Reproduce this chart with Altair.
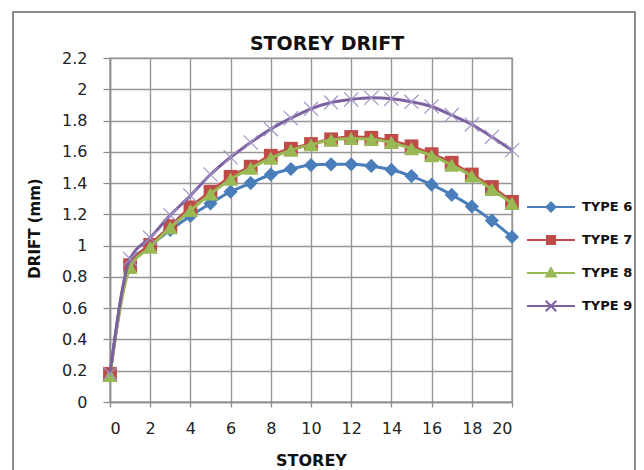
import altair as alt
import pandas as pd

storey = list(range(21))
series_names = ["TYPE 6", "TYPE 7", "TYPE 8", "TYPE 9"]
type6 = [0.18, 0.89, 1.00, 1.10, 1.19, 1.27, 1.345, 1.40, 1.455, 1.49, 1.515,
         1.52, 1.52, 1.51, 1.485, 1.445, 1.39, 1.325, 1.25, 1.16, 1.055]
type7 = [0.18, 0.875, 1.005, 1.125, 1.245, 1.345, 1.44, 1.505, 1.575, 1.62, 1.65,
         1.68, 1.695, 1.69, 1.67, 1.635, 1.585, 1.53, 1.455, 1.375, 1.28]
type8 = [0.17, 0.86, 0.99, 1.115, 1.225, 1.33, 1.425, 1.495, 1.56, 1.61, 1.645,
         1.675, 1.685, 1.68, 1.66, 1.62, 1.575, 1.515, 1.445, 1.36, 1.27]
type9 = [0.18, 0.915, 1.05, 1.195, 1.32, 1.455, 1.565, 1.66, 1.745, 1.815, 1.875,
         1.915, 1.935, 1.945, 1.94, 1.92, 1.89, 1.835, 1.775, 1.695, 1.61]
y_ticks = [0, 0.2, 0.4, 0.6, 0.8, 1.0, 1.2, 1.4, 1.6, 1.8, 2.0, 2.2]
x_ticks = [0, 2, 4, 6, 8, 10, 12, 14, 16, 18, 20]

colors = ["#4A7EBB", "#BE4B48", "#98B954", "#7D60A0"]
marker_colors = ["#4A7EBB", "#BE4B48", "#98B954", "#A394C6"]
shapes = ["diamond", "square", "triangle-up", "M-1,-1L1,1M-1,1L1,-1"]
sizes = [200, 190, 230, 200]
legend_paths = [
    "M-1,0H1M0,-0.19L0.19,0L0,0.19L-0.19,0ZM0,-0.09L0.09,0L0,0.09L-0.09,0Z",
    "M-1,0H1M-0.17,-0.17H0.17V0.17H-0.17ZM-0.08,-0.08H0.08V0.08H-0.08Z",
    "M-1,0H1M0,-0.2L0.2,0.15L-0.2,0.15ZM0,-0.08L0.09,0.08L-0.09,0.08Z",
    "M-1,0H1M-0.22,-0.22L0.22,0.22M-0.22,0.22L0.22,-0.22",
]

values = [type6, type7, type8, type9]
rows = []
for name, vals in zip(series_names, values):
    for s, v in zip(storey, vals):
        rows.append({"storey": s, "drift": v, "series": name})
df = pd.DataFrame(rows)

FONT = "DejaVu Sans"

x_enc = alt.X("storey:Q", scale=alt.Scale(domain=[0, 20], nice=False),
              axis=alt.Axis(values=x_ticks, title="STOREY", titleFontSize=16,
                            titleFontWeight="bold", titleY=50, titleBaseline="top",
                            labelFontSize=16, labelPadding=13, tickSize=5,
                            labelColor="#222222", titleColor="#111111"))
y_enc = alt.Y("drift:Q", scale=alt.Scale(domain=[0, 2.2], nice=False),
              axis=alt.Axis(values=y_ticks, format="~g", title="DRIFT (mm)",
                            titleFontSize=15, titleFontWeight="bold",
                            titleAngle=270, titleX=-76, titleY=170,
                            titleAlign="center", titleBaseline="middle",
                            labelFontSize=16, labelPadding=16, tickSize=7,
                            labelColor="#222222", titleColor="#111111"))
color_scale = alt.Scale(domain=series_names, range=colors)

frame = alt.Chart(alt.Data(values=[{"a": 1}])).mark_rect(
    fillOpacity=0, stroke="#8c8c8c", strokeWidth=2
).encode(x=alt.value(-97), x2=alt.value(525), y=alt.value(-46), y2=alt.value(440))

layers = [frame]
for i, name in enumerate(series_names):
    sub = df[df["series"] == name]
    base = alt.Chart(sub).encode(x=x_enc, y=y_enc)
    line = base.mark_line(strokeWidth=3, interpolate="monotone", color=colors[i])
    if i == 3:
        pts = base.mark_point(shape=shapes[i], size=sizes[i], filled=False,
                              stroke=marker_colors[i], strokeWidth=1.2, opacity=1)
    else:
        pts = base.mark_point(shape=shapes[i], size=sizes[i], filled=True,
                              color=marker_colors[i], opacity=1)
    layers += [line, pts]

leg = alt.Chart(df).mark_point(filled=False, strokeWidth=2, opacity=0).encode(
    x=x_enc, y=y_enc,
    color=alt.Color("series:N", scale=color_scale, legend=alt.Legend(
        title=None, orient="none", legendX=416, legendY=141,
        labelFont=FONT, labelFontSize=13, labelFontWeight="bold",
        labelColor="#111111", labelOffset=6, rowPadding=17, padding=0,
        clipHeight=16,
        symbolSize=2304, symbolStrokeWidth=2, symbolOpacity=1)),
    fill=alt.Fill("series:N", scale=alt.Scale(domain=series_names, range=colors)),
    shape=alt.Shape("series:N", scale=alt.Scale(domain=series_names, range=legend_paths)),
)
layers.append(leg)

chart = alt.layer(*layers).properties(
    width=402, height=344,
    title=alt.TitleParams("STOREY DRIFT", fontSize=19, fontWeight="bold", font=FONT,
                          anchor="middle", dx=16, offset=-58, baseline="alphabetic",
                          color="#111111"),
    autosize=alt.AutoSizeParams(type="none"),
    padding={"left": 102, "top": 50, "right": 124, "bottom": 70},
).configure_axis(
    labelFont=FONT, titleFont=FONT, gridColor="#969696", gridWidth=1.4,
    domainColor="#8c8c8c", domainWidth=1.5, tickColor="#8c8c8c", tickWidth=1.3,
    gridOpacity=1,
).configure_view(stroke="#969696", strokeWidth=1.4).configure_legend(labelFont=FONT)

chart.save("out.html", embed_options={"renderer": "svg", "actions": False})
